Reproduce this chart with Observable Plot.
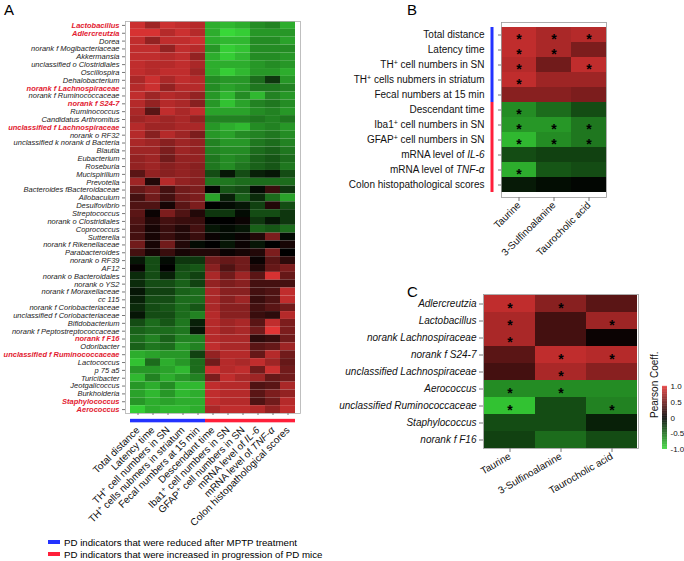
<!DOCTYPE html>
<html><head><meta charset="utf-8">
<script src="https://cdn.jsdelivr.net/npm/d3@7"></script>
<script src="https://cdn.jsdelivr.net/npm/@observablehq/plot@0.6"></script>
<style>
body{margin:0;background:#fff;font-family:"Liberation Sans",Arial,sans-serif;}
#wrap{position:relative;width:684px;height:561px;overflow:hidden;background:#fff;}
.panel{position:absolute;}
.panel svg{overflow:visible;}
.letter{position:absolute;font-size:15px;color:#000;line-height:1;}
.leg{position:absolute;left:48px;font-size:9.7px;line-height:12px;color:#000;white-space:nowrap;}
.leg span{display:inline-block;width:12px;height:4px;margin-right:4px;vertical-align:middle;position:relative;top:-1px;}
</style></head><body><div id="wrap"></div>
<script>
// ---------- data ----------
const indicators = ["Total distance","Latency time","TH+ cell numbers in SN","TH+ cells nubmers in striatum","Fecal numbers at 15 min","Descendant time","Iba1+ cell numbers in SN","GFAP+ cell numbers in SN","mRNA level of IL-6","mRNA level of TNF-α","Colon histopathological scores"];
const indicatorGroup = ["reduced","reduced","reduced","reduced","reduced","increased","increased","increased","increased","increased","increased"];
const groupLabels = ["PD indicators that were reduced after MPTP treatment","PD indicators that were increased in progression of PD mice"];

const taxaA = ["Lactobacillus","Adlercreutzia","Dorea","norank f Mogibacteriaceae","Akkermansia","unclassified o Clostridiales","Oscillospira","Dehalobacterium","norank f Lachnospiraceae","norank f Ruminococcaceae","norank f S24-7","Ruminococcus","Candidatus Arthromitus","unclassified f Lachnospiraceae","norank o RF32","unclassified k norank d Bacteria","Blautia","Eubacterium","Roseburia","Mucispirillum","Prevotella","Bacteroides fBacteroidaceae","Allobaculum","Desulfovibrio","Streptococcus","norank o Clostridiales","Coprococcus","Sutterella","norank f Rikenellaceae","Parabacteroides","norank o RF39","AF12","norank o Bacteroidales","norank o YS2","norank f Moraxellaceae","cc 115","norank f Coriobacteriaceae","unclassified f Coriobacteriaceae","Bifidobacterium","norank f Peptostreptococcaceae","norank f F16","Odoribacter","unclassified f Ruminococcaceae","Lactococcus","p 75 a5","Turicibacter","Jeotgalicoccus","Burkholderia","Staphylococcus","Aerococcus"];
const highlightedA = ["Lactobacillus","Adlercreutzia","norank f Lachnospiraceae","norank f S24-7","unclassified f Lachnospiraceae","norank f F16","unclassified f Ruminococcaceae","Staphylococcus","Aerococcus"];
const valuesA = [
[0.9,0.7,0.9,0.85,0.8,-0.8,-0.85,-0.8,-0.65,-0.6,-0.8],
[0.95,0.95,0.8,0.9,0.8,-0.8,-1.0,-0.95,-0.7,-0.7,-0.7],
[0.85,0.65,0.85,0.85,0.9,-0.8,-0.85,-0.85,-0.65,-0.65,-0.75],
[0.85,0.85,0.65,0.85,0.8,-0.7,-0.95,-0.9,-0.65,-0.65,-0.65],
[0.85,0.85,0.8,0.85,0.65,-0.8,-0.95,-0.85,-0.65,-0.65,-0.7],
[0.85,0.8,0.8,0.85,0.75,-0.8,-0.8,-0.8,-0.7,-0.65,-0.7],
[0.85,0.8,0.85,0.85,0.7,-0.8,-0.95,-0.85,-0.7,-0.7,-0.8],
[0.75,0.9,0.75,0.85,0.8,-0.65,-0.7,-0.7,-0.5,-0.25,-0.7],
[0.8,0.9,0.65,0.8,0.8,-0.65,-0.75,-0.7,-0.55,-0.55,-0.6],
[0.85,0.7,0.8,0.75,0.65,-0.7,-0.85,-0.65,-0.85,-0.6,-0.7],
[0.8,0.65,0.8,0.75,0.6,-0.7,-0.9,-0.75,-0.6,-0.55,-0.65],
[0.75,0.4,0.85,0.75,0.85,-0.75,-0.75,-0.75,-0.65,-0.6,-0.7],
[0.7,0.75,0.7,0.75,0.65,-0.6,-0.6,-0.6,-0.55,-0.6,-0.55],
[0.8,0.7,0.7,0.75,0.75,-0.7,-0.8,-0.85,-0.65,-0.6,-0.7],
[0.8,0.6,0.8,0.7,0.55,-0.7,-0.75,-0.65,-0.6,-0.55,-0.65],
[0.75,0.7,0.6,0.7,0.65,-0.6,-0.7,-0.7,-0.55,-0.5,-0.6],
[0.7,0.7,0.55,0.7,0.65,-0.6,-0.65,-0.65,-0.5,-0.45,-0.55],
[0.65,0.7,0.5,0.65,0.65,-0.55,-0.65,-0.6,-0.45,-0.4,-0.5],
[0.65,0.7,0.6,0.65,0.6,-0.55,-0.65,-0.55,-0.45,-0.4,-0.55],
[0.4,0.65,0.6,0.65,0.6,-0.35,-0.1,-0.35,-0.15,-0.1,-0.35],
[0.7,0.15,0.8,0.65,0.6,-0.55,-0.55,-0.5,-0.5,-0.5,-0.5],
[0.45,0.55,0.3,0.5,0.55,-0.02,-0.4,-0.35,-0.05,0.25,-0.25],
[0.3,0.5,0.3,0.5,0.55,-0.75,-0.15,-0.45,-0.2,-0.5,-0.75],
[0.35,0.35,0.1,0.4,0.55,0.0,-0.05,-0.1,-0.3,0.15,-0.35],
[0.4,0.05,0.55,0.35,0.15,-0.25,-0.25,-0.05,-0.35,-0.35,-0.25],
[0.35,0.15,0.3,0.25,0.25,0.0,0.0,0.05,-0.25,-0.1,-0.25],
[0.3,0.1,0.25,0.15,0.3,-0.1,-0.05,-0.1,-0.45,-0.4,-0.5],
[0.3,0.1,0.25,0.15,0.25,0.05,-0.05,0.05,0.15,0.55,-0.05],
[0.5,0.1,0.5,0.15,-0.05,0.0,-0.1,0.05,-0.1,0.0,0.1],
[0.3,0.1,0.25,0.1,0.15,0.15,0.05,0.1,0.15,0.55,0.0],
[-0.1,-0.35,-0.05,-0.25,-0.25,0.5,0.45,0.5,0.05,0.4,0.2],
[0.02,-0.35,0.0,-0.35,-0.4,0.6,0.35,0.5,0.15,0.45,0.55],
[-0.2,-0.35,-0.15,-0.4,-0.3,0.75,0.5,0.7,0.4,0.95,0.45],
[-0.2,-0.35,-0.35,-0.45,-0.3,0.65,0.55,0.6,0.3,0.3,0.3],
[-0.1,-0.3,-0.3,-0.45,-0.5,0.75,0.6,0.6,0.3,0.35,0.85],
[-0.15,-0.35,-0.35,-0.5,-0.5,0.75,0.6,0.7,0.25,0.35,0.85],
[-0.2,-0.35,-0.4,-0.5,-0.4,0.75,0.6,0.6,0.3,0.4,0.5],
[-0.1,-0.35,-0.35,-0.5,-0.6,0.8,0.6,0.6,0.25,0.2,0.8],
[-0.35,-0.5,-0.4,-0.55,-0.15,0.8,0.7,0.75,0.4,0.85,0.55],
[-0.45,-0.5,-0.5,-0.55,-0.1,0.8,0.7,0.75,0.5,1.0,0.55],
[-0.5,-0.6,-0.45,-0.6,-0.6,0.8,0.75,0.75,0.2,0.25,0.5],
[-0.45,-0.55,-0.5,-0.7,-0.6,0.85,0.75,0.75,0.4,0.45,0.7],
[-0.8,-0.75,-0.7,-0.7,-0.3,0.65,0.8,0.8,0.45,0.8,0.5],
[-0.9,-0.5,-0.8,-0.7,-0.5,0.5,0.8,0.75,0.85,0.7,0.45],
[-0.7,-0.7,-0.75,-0.85,-0.5,0.9,0.8,0.85,0.5,0.9,0.5],
[-0.85,-0.6,-0.8,-0.7,-0.6,0.55,0.85,0.75,0.7,0.45,0.5],
[-0.7,-0.8,-0.65,-0.85,-0.85,0.85,0.8,0.8,0.35,0.4,0.75],
[-0.75,-0.85,-0.7,-0.85,-0.8,0.85,0.8,0.8,0.4,0.55,0.65],
[-0.7,-0.8,-0.75,-0.8,-0.8,0.85,0.8,0.8,0.35,0.5,0.8],
[-0.95,-0.8,-0.85,-0.85,-0.8,0.75,0.85,0.85,0.8,0.65,0.85]
];

const compounds = ["Taurine","3-Sulfinoalanine","Taurocholic acid"];
const valuesB = [
[0.85,0.75,0.8],[0.85,0.75,0.55],[0.8,0.5,0.85],[0.85,0.7,0.7],[0.6,0.6,0.55],
[-0.65,-0.5,-0.35],[-0.7,-0.7,-0.55],[-0.85,-0.65,-0.55],[-0.35,-0.3,-0.3],[-0.8,-0.4,-0.35],[-0.12,-0.06,-0.03]
];
const sigB = [
[1,1,1],[1,1,0],[1,0,1],[1,0,0],[0,0,0],
[1,0,0],[1,1,1],[1,1,1],[0,0,0],[1,0,0],[0,0,0]
];

const taxaC = ["Adlercreutzia","Lactobacillus","norank Lachnospiraceae","norank f S24-7","unclassified Lachnospiraceae","Aerococcus","unclassified Ruminococcaceae","Staphylococcus","norank f F16"];
const valuesC = [
[0.85,0.6,0.4],[0.75,0.3,0.7],[0.75,0.3,0.05],[0.4,0.85,0.8],[0.3,0.75,0.6],
[-0.65,-0.65,-0.65],[-0.9,-0.35,-0.6],[-0.35,-0.35,-0.15],[-0.3,-0.5,-0.35]
];
const sigC = [
[1,1,0],[1,0,1],[1,0,0],[0,1,1],[0,1,0],[1,1,0],[1,0,1],[0,0,0],[0,0,0]
];
const legendTicks = [1.0,0.5,0,-0.5,-1.0];

// ---------- helpers ----------
const FONT = "'Liberation Sans', Arial, Helvetica, sans-serif";
const colorOpt = {type:"linear", domain:[-1,0,1], range:["#38d838","#000000","#e23535"], clamp:true};
const BLUE = "#2332ff", RED = "#ff1f3a", HIL = "#e2192f";
const wrap = document.getElementById("wrap");
function place(node, left, top){ const d=document.createElement("div"); d.className="panel"; d.style.left=left+"px"; d.style.top=top+"px"; d.appendChild(node); wrap.appendChild(d); return node; }
const SVGNS = "http://www.w3.org/2000/svg";
function enrich(svg){
  d3.select(svg).selectAll("text").each(function(){
    const s = this.textContent;
    if (!/(TH|Iba1|GFAP)\+|IL-6|TNF-α/.test(s)) return;
    const parts = s.split(/(\+|IL-6|TNF-α)/);
    while (this.firstChild) this.removeChild(this.firstChild);
    let shifted = false;
    for (const p of parts){
      if (!p) continue;
      const ts = document.createElementNS(SVGNS,"tspan");
      if (p === "+"){ ts.setAttribute("dy","-3.5"); ts.setAttribute("font-size","0.7em"); shifted = true; }
      else { if (shifted){ ts.setAttribute("dy","3.5"); shifted=false; }
             if (p==="IL-6"||p==="TNF-α") ts.setAttribute("font-style","italic"); }
      ts.textContent = p; this.appendChild(ts);
    }
  });
}
const cellsFrom = (rows, cols, vals) => rows.flatMap((r,i)=>cols.map((c,j)=>({row:r, col:c, value:vals[i][j]})));
const starsFrom = (rows, cols, sig) => rows.flatMap((r,i)=>cols.map((c,j)=>({row:r, col:c, s:sig[i][j]}))).filter(d=>d.s);

// ---------- Panel A ----------
const cellsA = cellsFrom(taxaA, indicators, valuesA);
const lastA = taxaA[taxaA.length-1];
const svgA = Plot.plot({
  width:310, height:530, marginLeft:125, marginTop:21, marginRight:10, marginBottom:117,
  style:{fontFamily:FONT, background:"transparent", color:"#000"},
  x:{domain:indicators, padding:0, axis:null},
  y:{domain:taxaA, padding:0, axis:null},
  color:colorOpt,
  marks:[
    Plot.cell(cellsA, {x:"col", y:"row", fill:"value"}),
    Plot.frame({stroke:"#b0b0b0", strokeWidth:0.8}),
    Plot.tickY(indicators.filter((d,i)=>indicatorGroup[i]==="reduced"), {x:d=>d, y:()=>lastA, dy:11, stroke:BLUE, strokeWidth:3.5}),
    Plot.tickY(indicators.filter((d,i)=>indicatorGroup[i]==="increased"), {x:d=>d, y:()=>lastA, dy:11, stroke:RED, strokeWidth:3.5}),
    Plot.axisY({tickSize:3, tickPadding:3, fontSize:7.5, fontStyle:"italic", stroke:"#777", fill:"#222", label:null}),
    Plot.axisX({tickSize:2, tickPadding:13, tickRotate:-45, fontSize:10, stroke:"#777", fill:"#111", label:null})
  ]
});
place(svgA, 0, 0);
d3.select(svgA).selectAll("text").each(function(){
  if (highlightedA.includes(this.textContent)){ this.setAttribute("fill", HIL); this.setAttribute("font-weight","bold"); }
});
enrich(svgA);

// ---------- Panel B ----------
const cellsB = cellsFrom(indicators, compounds, valuesB);
const starsB = starsFrom(indicators, compounds, sigB);
const svgB = Plot.plot({
  width:289, height:260, marginLeft:106, marginRight:78, marginTop:22, marginBottom:63,
  style:{fontFamily:FONT, background:"transparent", color:"#000"},
  x:{domain:compounds, padding:0, axis:null},
  y:{domain:indicators, padding:0, axis:null},
  color:colorOpt,
  marks:[
    Plot.cell(cellsB, {x:"col", y:"row", fill:"value"}),
    Plot.frame({stroke:"#999", strokeWidth:0.8}),
    Plot.text(starsB, {x:"col", y:"row", text:()=>"*", fontSize:14, fontWeight:"bold", dy:5, fill:"#000"}),
    Plot.tickX(indicators.filter((d,i)=>indicatorGroup[i]==="reduced"), {y:d=>d, x:()=>compounds[0], dx:-27, stroke:BLUE, strokeWidth:3}),
    Plot.tickX(indicators.filter((d,i)=>indicatorGroup[i]==="increased"), {y:d=>d, x:()=>compounds[0], dx:-27, stroke:RED, strokeWidth:3}),
    Plot.axisY({tickSize:3, tickPadding:14, fontSize:10, stroke:"#777", fill:"#111", label:null}),
    Plot.axisX({tickSize:4, tickPadding:2, tickRotate:-45, fontSize:10, stroke:"#777", fill:"#111", label:null})
  ]
});
place(svgB, 395, 0);
enrich(svgB);

// ---------- Panel C ----------
const cellsC = cellsFrom(taxaC, compounds, valuesC);
const starsC = starsFrom(taxaC, compounds, sigC);
const svgC = Plot.plot({
  width:289, height:250, marginLeft:88, marginRight:46, marginTop:29, marginBottom:67,
  style:{fontFamily:FONT, background:"transparent", color:"#000"},
  x:{domain:compounds, padding:0, axis:null},
  y:{domain:taxaC, padding:0, axis:null},
  color:colorOpt,
  marks:[
    Plot.cell(cellsC, {x:"col", y:"row", fill:"value"}),
    Plot.frame({stroke:"#999", strokeWidth:0.8}),
    Plot.text(starsC, {x:"col", y:"row", text:()=>"*", fontSize:14, fontWeight:"bold", dy:5, fill:"#000"}),
    Plot.axisY({tickSize:4, tickPadding:3, fontSize:10, fontStyle:"italic", stroke:"#777", fill:"#111", label:null}),
    Plot.axisX({tickSize:4, tickPadding:3, tickRotate:-30, fontSize:10, stroke:"#777", fill:"#111", label:null})
  ]
});
place(svgC, 395, 265);

// ---------- Colour bar ----------
const step = 0.02;
const steps = d3.range(-1, 1, step);
const svgL = Plot.plot({
  width:40, height:75, marginLeft:22, marginRight:13, marginTop:6, marginBottom:6,
  style:{fontFamily:FONT, background:"transparent", color:"#000"},
  x:{domain:[0,1], axis:null},
  y:{domain:[-1,1], axis:null},
  color:colorOpt,
  marks:[
    Plot.rect(steps, {x1:0, x2:1, y1:d=>d, y2:d=>d+step+0.005, fill:d=>d+step/2}),
    Plot.axisY({anchor:"right", ticks:legendTicks, tickSize:0, tickPadding:3, fontSize:8, fill:"#111", label:null,
      tickFormat:d=>d===0?"0":d.toFixed(1)}),
    Plot.text(["Pearson Coeff."], {frameAnchor:"left", rotate:-90, dx:-8, fontSize:10, fill:"#111"})
  ]
});
place(svgL, 640, 380);

// ---------- letters & legend ----------
[["A",4,2],["B",407,2],["C",407,284]].forEach(([t,x,y])=>{
  const d=document.createElement("div"); d.className="letter"; d.textContent=t; d.style.left=x+"px"; d.style.top=y+"px"; wrap.appendChild(d);
});
[[groupLabels[0],BLUE,537],[groupLabels[1],RED,549]].forEach(([t,c,y])=>{
  const d=document.createElement("div"); d.className="leg"; d.style.top=y+"px";
  const s=document.createElement("span"); s.style.background=c; d.appendChild(s);
  d.appendChild(document.createTextNode(t)); wrap.appendChild(d);
});
</script>
</body></html>
